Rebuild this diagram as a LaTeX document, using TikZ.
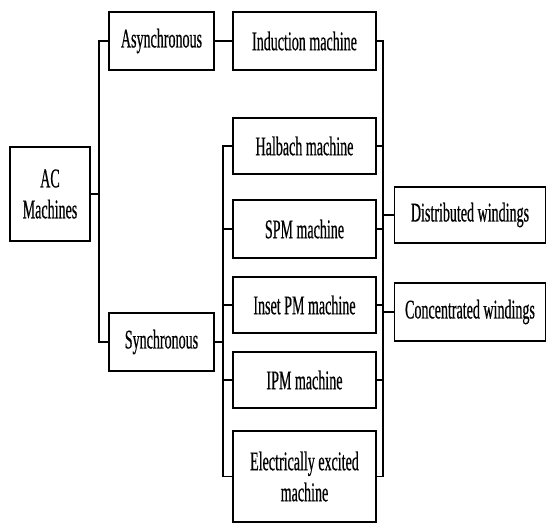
\documentclass[tikz,border=0pt]{standalone}
\usepackage{fontspec}
\setmainfont{Liberation Serif}
\newfontfamily\condfont[FakeStretch=0.52,FakeBold=0.5]{Liberation Serif}
\begin{document}
\begin{tikzpicture}[x=1pt,y=-1pt,
  box/.style={draw, line width=1.7pt, inner sep=0pt, align=center,
    font=\condfont\fontsize{27}{31}\selectfont},
  link/.style={line width=1.4pt}]
\useasboundingbox (0,0) rectangle (547,523);
\node[box, minimum width=80, minimum height=94] (ac) at (50,194) {AC\\Machines};
\node[box, minimum width=105, minimum height=58] (async) at (161.5,41) {Asynchronous};
\node[box, minimum width=105, minimum height=58] (sync) at (161.5,342) {Synchronous};
\node[box, minimum width=143, minimum height=58] (ind) at (304.5,41) {Induction machine};
\node[box, minimum width=143, minimum height=56] (hal) at (304.5,146) {Halbach machine};
\node[box, minimum width=143, minimum height=58] (spm) at (304.5,229) {SPM machine};
\node[box, minimum width=143, minimum height=56] (inset) at (304.5,305) {Inset PM machine};
\node[box, minimum width=143, minimum height=56] (ipm) at (304.5,380) {IPM machine};
\node[box, minimum width=143, minimum height=91] (ee) at (304.5,476.5) {Electrically excited\\machine};
\node[box, minimum width=151, minimum height=56] (dist) at (470,215) {Distributed windings};
\node[box, minimum width=151, minimum height=58] (conc) at (470,312) {Concentrated windings};
\coordinate (ja) at (99,0);
\coordinate (jb) at (223,0);
\coordinate (jc) at (383,0);
% left tree
\draw[link] (ac.east) -- (ac.east -| ja);
\draw[link] (async.west) -- (async.west -| ja) -- (sync.west -| ja) -- (sync.west);
\draw[link] (async.east) -- (ind.west);
% synchronous tree
\draw[link] (sync.east) -- (sync.east -| jb);
\draw[link] (hal.west) -- (hal.west -| jb) -- (ee.west -| jb) -- (ee.west);
\draw[link] (spm.west) -- (spm.west -| jb);
\draw[link] (inset.west) -- (inset.west -| jb);
\draw[link] (ipm.west) -- (ipm.west -| jb);
% windings
\draw[link] (ind.east) -- (ind.east -| jc) -- (ee.east -| jc) -- (ee.east);
\draw[link] (hal.east) -- (hal.east -| jc);
\draw[link] (spm.east) -- (spm.east -| jc);
\draw[link] (inset.east) -- (inset.east -| jc);
\draw[link] (ipm.east) -- (ipm.east -| jc);
\draw[link] (dist.west) -- (dist.west -| jc);
\draw[link] (conc.west) -- (conc.west -| jc);
\end{tikzpicture}
\end{document}
